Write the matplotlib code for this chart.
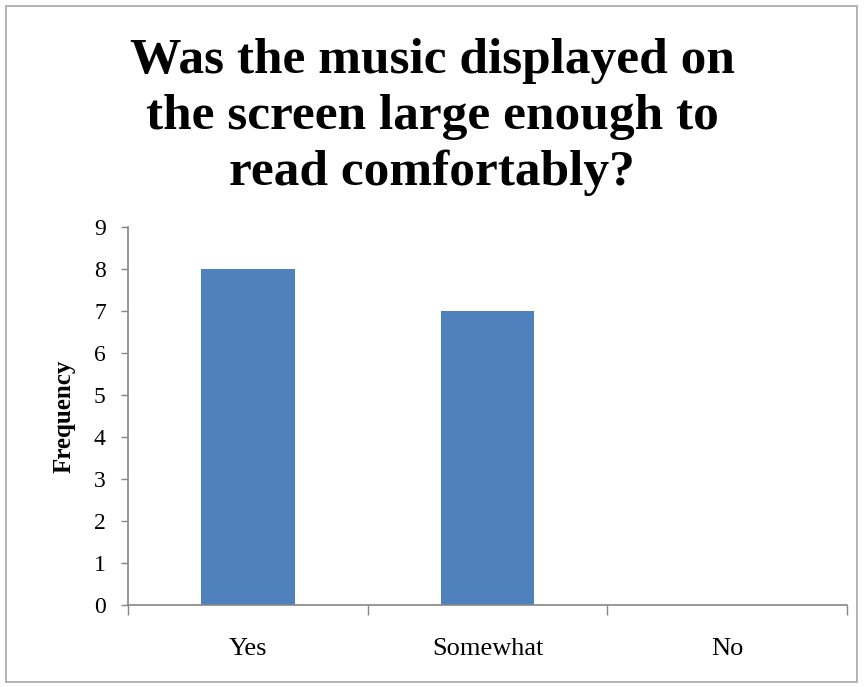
import matplotlib
matplotlib.use("Agg")
import matplotlib.pyplot as plt
from matplotlib.patches import Rectangle

categories = ["Yes", "Somewhat", "No"]
freq = [8, 7, 0]
yticks = list(range(0, 10))

BAR = "#4f81bd"
AX = "#868686"

plt.rcParams["font.family"] = ["Liberation Serif", "DejaVu Serif"]

fig = plt.figure(figsize=(8.64, 6.87), dpi=100)
ax = fig.add_axes([128 / 864, 1 - 605 / 687, (847 - 128) / 864, (605 - 227) / 687])

x = list(range(len(categories)))
ax.bar(x, freq, width=0.39, color=BAR, zorder=2)
ax.set_xlim(-0.5, len(categories) - 0.5)
ax.set_ylim(0, 9)
ax.set_yticks(yticks)
ax.tick_params(axis="y", labelsize=17, length=5, color=AX, width=1, pad=11)
ax.set_xticks(x)
ax.set_xticklabels(categories, fontsize=19)
ax.tick_params(axis="x", length=0, pad=24)
# category boundary ticks
ax.set_xticks([i - 0.5 for i in range(len(categories) + 1)], minor=True)
ax.tick_params(axis="x", which="minor", length=7, color=AX, width=1)

for s in ("top", "right"):
    ax.spines[s].set_visible(False)
for s in ("left", "bottom"):
    ax.spines[s].set_color(AX)
    ax.spines[s].set_linewidth(1.2)

ax.set_ylabel("Frequency", fontsize=18, fontweight="bold", labelpad=13)

fig.text(0.5, 1 - 117 / 687,
         "Was the music displayed on\nthe screen large enough to\nread comfortably?",
         ha="center", va="center", fontsize=37, fontweight="bold",
         linespacing=1.28)

fig.patches.append(Rectangle((6 / 864, 1 - 682 / 687), (857 - 6) / 864, (682 - 6) / 687,
                             transform=fig.transFigure, fill=False,
                             edgecolor="#a6a6a6", lw=1.2))

fig.savefig("out.png", dpi=100)
